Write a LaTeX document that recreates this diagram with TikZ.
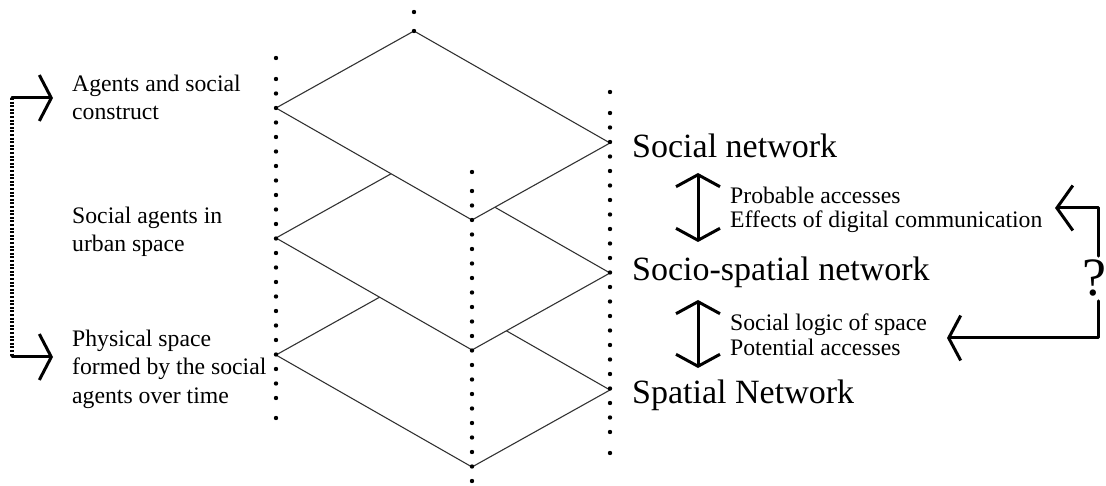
\documentclass[tikz,border=0pt]{standalone}
\usepackage{fontspec}
\setmainfont{Liberation Serif}
\usetikzlibrary{arrows.meta}
\begin{document}
\begin{tikzpicture}[x=1pt,y=-1pt,
  plane/.style={draw=black!80, line width=1.1pt, fill=white, line join=miter},
  dotmark/.style={fill=black},
  small/.style={font=\fontsize{23.7}{28.5}\selectfont, align=left, inner sep=0pt, anchor=north west, text=black},
  smallr/.style={small, font=\fontsize{23.7}{24.5}\selectfont},
  big/.style={font=\fontsize{34}{40}\selectfont, inner sep=0pt, anchor=base west, text=black},
  heavy/.style={line width=3pt, line cap=round, line join=round},
  onebarb/.style={-{Straight Barb[length=12pt,width=46pt]}},
  twobarbs/.style={{Straight Barb[length=12pt,width=44pt]}-{Straight Barb[length=12pt,width=44pt]}},
  bracketdots/.style={line width=3.2pt, dash pattern=on 2pt off 1.6pt},
]
\useasboundingbox (0,0) rectangle (1106,486);

% stacked planes, drawn back to front so the upper ones hide the lower ones
\foreach \ty in {278,161,31} {
  \draw[plane] (414,\ty) -- ++(-138,77) -- ++(196,112) -- ++(138,-77) -- cycle;
}

% dotted verticals through the plane corners
\def\dotr{2.2}
\fill[dotmark] (414,12) circle[radius=\dotr];
\fill[dotmark] (414,31) circle[radius=\dotr];
\foreach \k in {-2,...,20} \fill[dotmark] (276,{108+\k*14.5}) circle[radius=\dotr];
\fill[dotmark] (276,58) circle[radius=\dotr];
\fill[dotmark] (276,418) circle[radius=\dotr];
\foreach \k in {-2,...,20} \fill[dotmark] (610,{142+\k*14.5}) circle[radius=\dotr];
\fill[dotmark] (610,92) circle[radius=\dotr];
\fill[dotmark] (610,453) circle[radius=\dotr];
\foreach \k in {-2,...,18} \fill[dotmark] (472,{220+\k*14.5}) circle[radius=\dotr];
\fill[dotmark] (472,172) circle[radius=\dotr];

% left captions
\node[small] (agents) at (72,74.8) {Agents and social\\construct};
\node[small] (urban) at (72,206.8) {Social agents in\\urban space};
\node[small] (physical) at (72,329.8) {Physical space\\formed by the social\\agents over time};

% network names
\node[big] (social) at (632,158) {Social network};
\node[big] (sociospatial) at (632,281) {Socio-spatial network};
\node[big] (spatial) at (632,403) {Spatial Network};

% relations between layers
\node[smallr] (probable) at (730,186.8) {Probable accesses\\Effects of digital communication};
\node[smallr] (logic) at (730,313.8) {Social logic of space\\Potential accesses};

\coordinate (up1) at (698,173);
\coordinate (dn1) at (698,242);
\coordinate (up2) at (698,300);
\coordinate (dn2) at (698,368);
\draw[heavy, twobarbs] (up1) -- (dn1);
\draw[heavy, twobarbs] (up2) -- (dn2);

% left bracket
\coordinate (la) at (12,98);
\coordinate (lb) at (12,357);
\coordinate (latip) at (53,98);
\coordinate (lbtip) at (53,357);
\draw[bracketdots] (la) -- (lb);
\draw[heavy, onebarb] (la) -- (latip);
\draw[heavy, onebarb] (lb) -- (lbtip);

% right bracket with question mark
\node[font=\fontsize{54}{60}\selectfont, inner xsep=0pt, inner ysep=4pt, text=black] (q) at (1094.5,278.5) {?};
\coordinate (ra) at (1098,208);
\coordinate (rb) at (1098,338);
\coordinate (ratip) at (1055,208);
\coordinate (rbtip) at (947,338);
\draw[heavy, -{Straight Barb[length=16pt,width=45pt]}] (q.north -| ra) -- (ra) -- (ratip);
\draw[heavy, -{Straight Barb[length=12pt,width=45pt]}] (q.south -| rb) -- (rb) -- (rbtip);
\end{tikzpicture}
\end{document}
